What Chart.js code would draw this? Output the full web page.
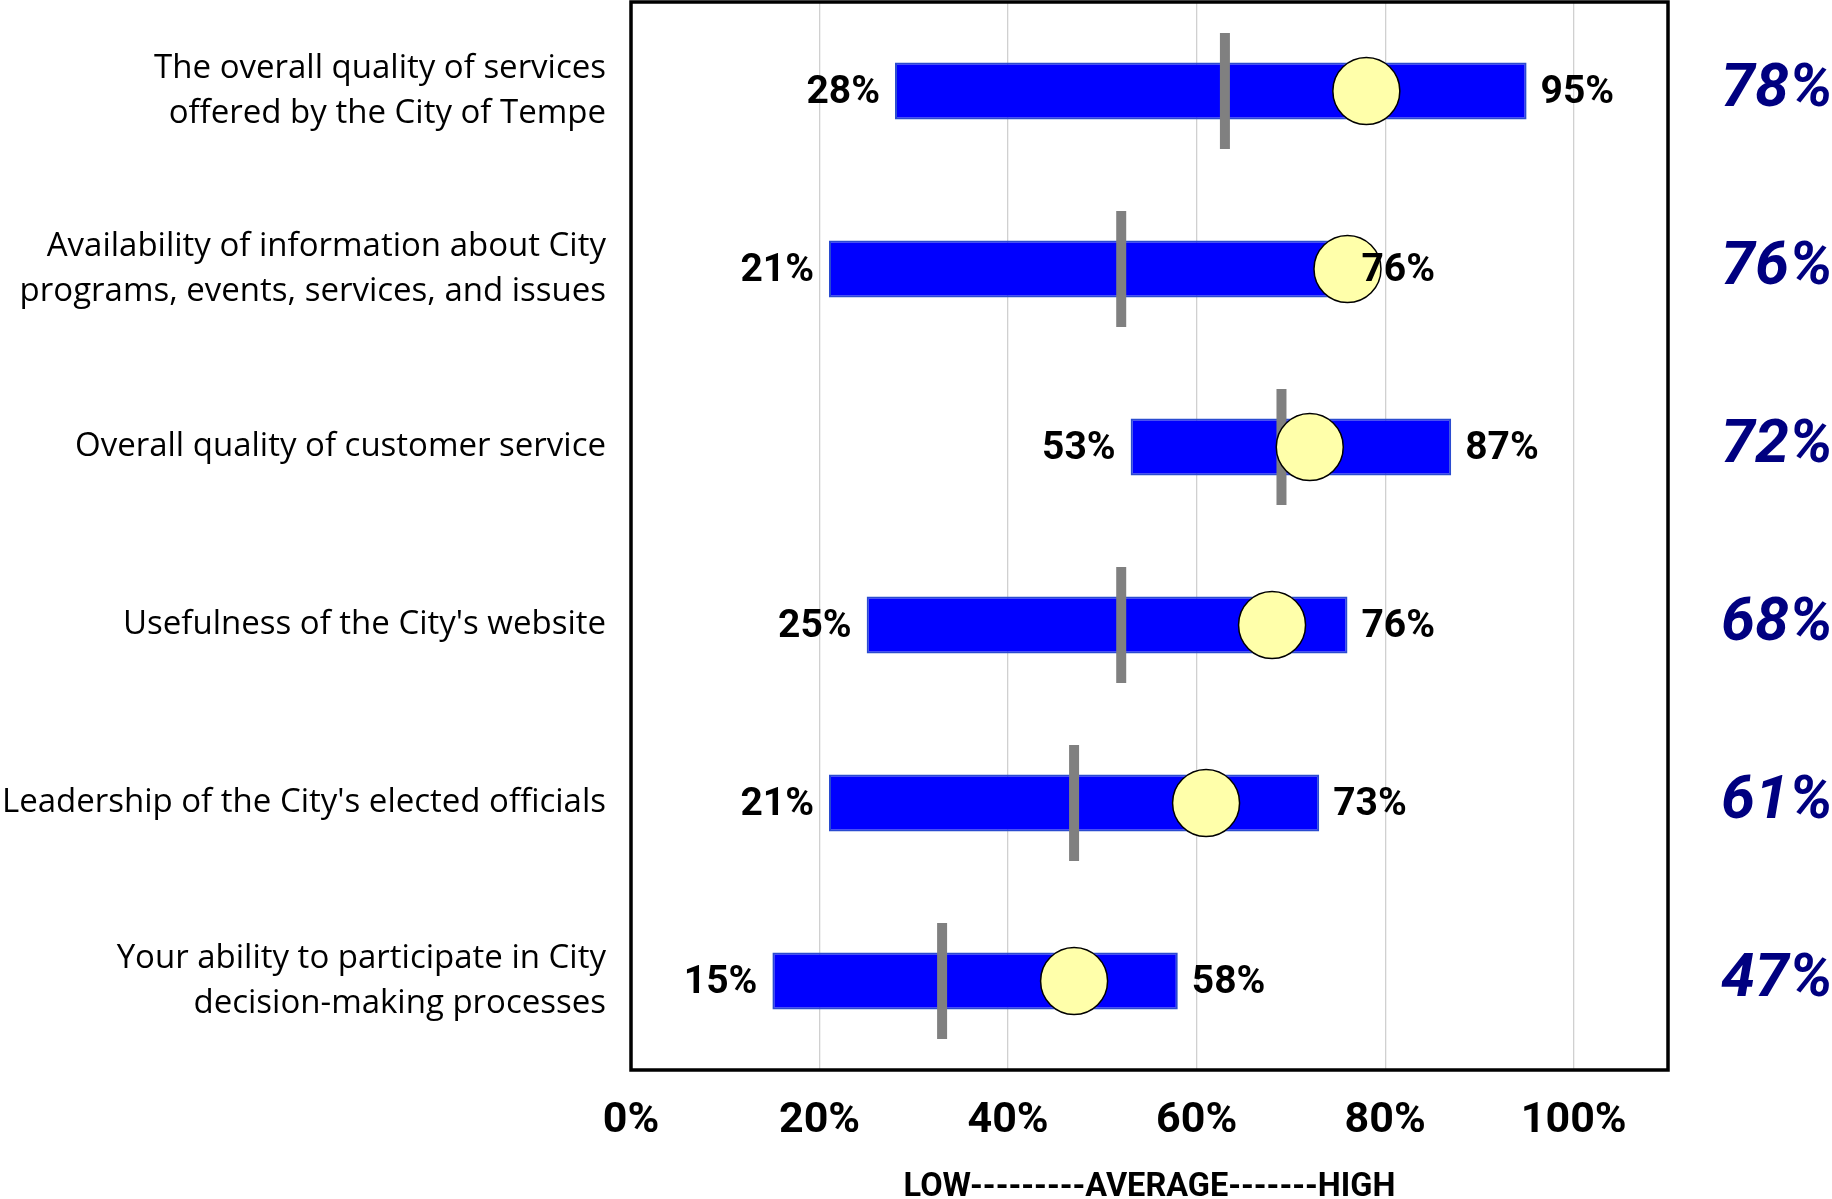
<!DOCTYPE html>
<html>
<head>
<meta charset="utf-8">
<title>City of Tempe service ratings</title>
<script src="https://cdn.jsdelivr.net/npm/chart.js@4.4.1/dist/chart.umd.min.js"></script>
<style>
  html, body { margin: 0; padding: 0; background: #fff; }
  #wrap { width: 1832px; height: 1199px; position: relative; }
</style>
</head>
<body>
<div id="wrap"><canvas id="mainCanvas"></canvas></div>
<script>
// rating items, top to bottom
const categories = [
  ['The overall quality of services', 'offered by the City of Tempe'],
  ['Availability of information about City', 'programs, events, services, and issues'],
  'Overall quality of customer service',
  "Usefulness of the City's website",
  "Leadership of the City's elected officials",
  ['Your ability to participate in City', 'decision-making processes']
];
// range of scores (low / high), average line and Tempe's score
const lowValues = [28, 21, 53, 25, 21, 15];
const highValues = [95, 76, 87, 76, 73, 58];
const averageValues = [63, 52, 69, 52, 47, 33];
const tempeValues = [78, 76, 72, 68, 61, 47];
const tempeLabels = tempeValues.map(v => v + '%');
const axisTitle = 'LOW---------AVERAGE-------HIGH';

const textFont = "'Open Sans', 'Noto Sans', sans-serif";
const numberFont = "Roboto, 'Liberation Sans', sans-serif";

// keep tick labels from pushing the plot area around
function noScalePadding(scale) {
  scale.paddingTop = 0;
  scale.paddingBottom = 0;
  scale.paddingLeft = 0;
  scale.paddingRight = 0;
}

document.addEventListener('DOMContentLoaded', () => {
  const ctx = document.getElementById('mainCanvas').getContext('2d');

  // black box around the plot area
  const plotFrame = {
    id: 'plotFrame',
    afterDatasetsDraw(chart) {
      const { ctx, chartArea: a } = chart;
      ctx.save();
      ctx.strokeStyle = '#000';
      ctx.lineWidth = 3.5;
      ctx.strokeRect(a.left, a.top, a.right - a.left, a.bottom - a.top);
      ctx.restore();
    }
  };

  // low / high percentages at both ends of each range bar
  const rangeLabels = {
    id: 'rangeLabels',
    afterDatasetsDraw(chart) {
      const { ctx } = chart;
      const meta = chart.getDatasetMeta(0);
      ctx.save();
      ctx.font = 'bold 39px ' + numberFont;
      ctx.fillStyle = '#000';
      ctx.textBaseline = 'middle';
      meta.data.forEach((bar, i) => {
        const left = Math.min(bar.base, bar.x);
        const right = Math.max(bar.base, bar.x);
        ctx.textAlign = 'right';
        ctx.fillText(lowValues[i] + '%', left - 15, bar.y + 2);
        ctx.textAlign = 'left';
        ctx.fillText(highValues[i] + '%', right + 14, bar.y + 2);
      });
      ctx.restore();
    }
  };

  new Chart(ctx, {
    type: 'bar',
    data: {
      labels: categories,
      datasets: [
        {
          label: 'Range',
          data: lowValues.map((v, i) => [v, highValues[i]]),
          backgroundColor: '#0000ff',
          borderColor: '#2a4bd0',
          borderWidth: 2,
          borderSkipped: false,
          barPercentage: 0.32,
          categoryPercentage: 1,
          xAxisID: 'x',
          yAxisID: 'y',
          order: 3
        },
        {
          label: 'Average',
          type: 'line',
          indexAxis: 'y',
          data: averageValues,
          showLine: false,
          pointStyle: 'line',
          pointRotation: 90,
          pointRadius: 58,
          pointBorderWidth: 10,
          pointBorderColor: '#808080',
          pointBackgroundColor: '#808080',
          clip: false,
          xAxisID: 'x',
          yAxisID: 'y',
          order: 2
        },
        {
          label: 'Tempe',
          type: 'line',
          indexAxis: 'y',
          data: tempeValues,
          showLine: false,
          pointStyle: 'circle',
          pointRadius: 33.5,
          pointBorderWidth: 1.5,
          pointBorderColor: '#000',
          pointBackgroundColor: '#ffffaa',
          clip: false,
          xAxisID: 'x',
          yAxisID: 'y',
          order: 1
        }
      ]
    },
    options: {
      indexAxis: 'y',
      responsive: true,
      maintainAspectRatio: false,
      animation: false,
      events: [],
      layout: { autoPadding: false, padding: { top: 2, left: 0, right: 0, bottom: 0 } },
      plugins: {
        legend: { display: false },
        tooltip: { enabled: false }
      },
      scales: {
        x: {
          type: 'linear',
          min: 0,
          max: 110,
          grid: { color: '#d0d0d0', lineWidth: 1.3, drawTicks: false },
          border: { display: false },
          ticks: {
            stepSize: 20,
            includeBounds: false,
            padding: 25,
            color: '#000',
            font: { family: numberFont, size: 43, weight: 'bold' },
            callback: v => v + '%'
          },
          title: {
            display: true,
            text: axisTitle,
            color: '#000',
            padding: { top: 0, bottom: -5 },
            font: { family: numberFont, size: 32.5, weight: 'bold', lineHeight: 1 }
          },
          afterFit: scale => { noScalePadding(scale); scale.height = 129; }
        },
        y: {
          type: 'category',
          offset: true,
          grid: { display: false },
          border: { display: false },
          ticks: {
            padding: 17,
            color: '#000',
            font: { family: textFont, size: 33, lineHeight: '45.5px' }
          },
          afterFit: scale => { noScalePadding(scale); scale.width = 631; }
        },
        y2: {
          type: 'category',
          position: 'right',
          labels: tempeLabels,
          offset: true,
          grid: { display: false },
          border: { display: false },
          ticks: {
            crossAlign: 'near',
            padding: 45,
            color: '#000080',
            font: { family: numberFont, size: 61, weight: 'bold', style: 'italic' }
          },
          afterFit: scale => { noScalePadding(scale); scale.width = 164; }
        }
      }
    },
    plugins: [plotFrame, rangeLabels]
  });
});
</script>
</body>
</html>
